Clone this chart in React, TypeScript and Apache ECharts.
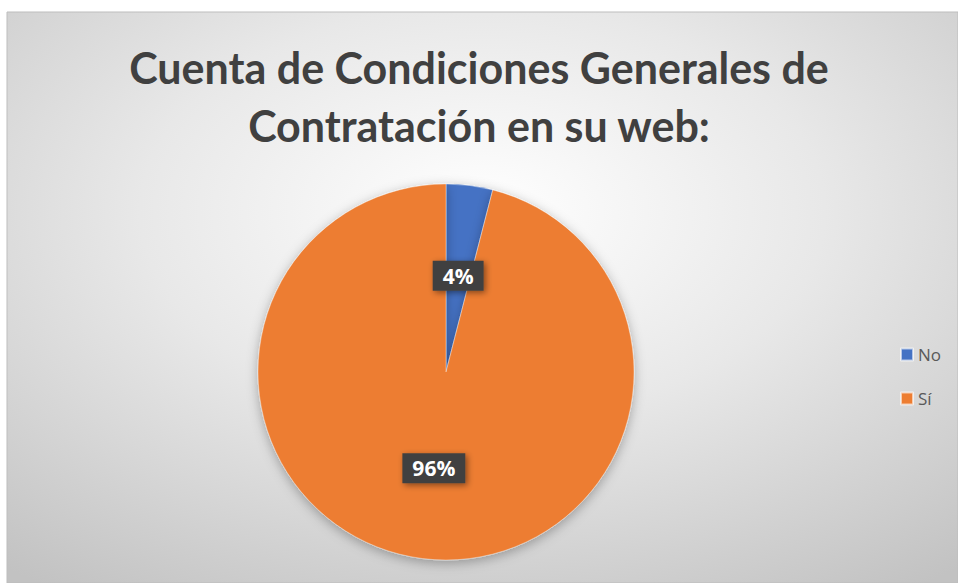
import React, { useEffect, useRef } from "react";
import * as echarts from "echarts";

const titleLines = ["Cuenta de Condiciones Generales de", "Contratación en su web:"];
const categories = ["No", "Sí"];
const counts = [1, 24];
const colors = ["#4472C4", "#ED7D31"];

export default function App() {
  const ref = useRef<HTMLDivElement>(null);
  useEffect(() => {
    if (!ref.current) return;
    const chart = echarts.init(ref.current, undefined, { renderer: "svg" });
    chart.setOption({
      animation: false,
      graphic: [
        {
          type: "rect",
          shape: { x: 7, y: 12, width: 951, height: 571 },
          style: {
            fill: new echarts.graphic.RadialGradient(0.5, 0.35, 0.8, [
              { offset: 0, color: "#ffffff" },
              { offset: 0.45, color: "#e8e8e8" },
              { offset: 1, color: "#c2c2c2" },
            ]),
            stroke: "#bdbdbd",
            lineWidth: 1,
          },
          z: -10,
        },
      ],
      title: {
        text: titleLines.join("\n"),
        left: "center",
        top: 33,
        textStyle: {
          fontFamily: "Lato",
          fontWeight: "bold",
          fontSize: 43,
          lineHeight: 58,
          color: "#404040",
        },
      },
      legend: {
        orient: "vertical",
        left: 895,
        top: 341,
        itemWidth: 12,
        itemHeight: 12,
        itemGap: 27,
        icon: "rect",
        data: categories,
        textStyle: { fontFamily: "Open Sans", fontSize: 17, color: "#595959" },
      },
      series: [
        {
          type: "pie",
          center: [446, 372],
          radius: 188,
          startAngle: 90,
          clockwise: true,
          itemStyle: {
            borderColor: "rgba(255,255,255,0.6)",
            borderWidth: 0.6,
            shadowBlur: 12,
            shadowColor: "rgba(0,0,0,0.3)",
            shadowOffsetY: 3,
          },
          label: {
            show: true,
            position: "inside",
            formatter: (p: any) => Math.round(p.percent) + "%",
            color: "#ffffff",
            fontFamily: "Open Sans",
            fontWeight: "bold",
            fontSize: 21,
            backgroundColor: "#404040",
            padding: [5, 10, 4, 10],
            shadowBlur: 6,
            shadowColor: "rgba(0,0,0,0.45)",
            shadowOffsetX: 2,
            shadowOffsetY: 2,
          },
          labelLine: { show: false },
          emphasis: { disabled: true },
          data: categories.map((c, i) => ({
            name: c,
            value: counts[i],
            itemStyle: { color: colors[i] },
          })),
        },
      ],
    });
    return () => chart.dispose();
  }, []);
  return (
    <div
      ref={ref}
      style={{ position: "fixed", left: 0, top: 0, width: 958, height: 583, background: "#ffffff" }}
    />
  );
}
